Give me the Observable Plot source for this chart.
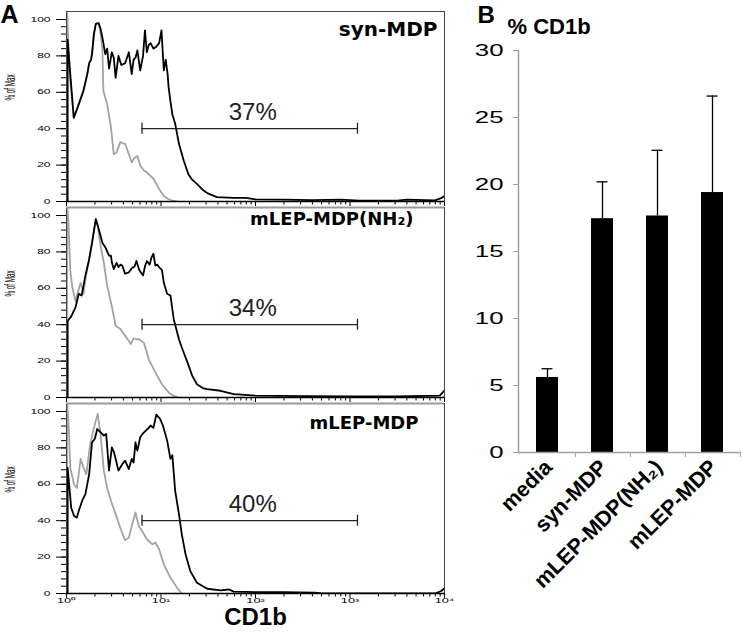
<!DOCTYPE html>
<html><head><meta charset="utf-8">
<script src="https://cdn.jsdelivr.net/npm/d3@7"></script>
<script src="https://cdn.jsdelivr.net/npm/@observablehq/plot@0.6"></script>
<style>
body{margin:0;background:#fff;}
#root{position:relative;width:742px;height:634px;overflow:hidden;background:#fff;}
#root svg{position:absolute;}
</style></head><body><div id="root"></div>
<script>
// ---------- Panel A data ----------
const histSamples = ["syn-MDP", "mLEP-MDP(NH\u2082)", "mLEP-MDP"];
const gatePercent = [37, 34, 40];
const gateRange = [6.3, 1200];
const gateLevel = 40;
const xDecades = [1, 10, 100, 1000, 10000];
const xTickLabels = ["10\u2070", "10\u00b9", "10\u00b2", "10\u00b3", "10\u2074"];
const yTicksA = [0, 20, 40, 60, 80, 100];

// [log10 CD1b intensity, % of max]; black = CD1b stain, grey = control
const synStained = [[0.012,0],[0.012,89],[0.04,70],[0.077,46],[0.12,52],[0.18,61],[0.22,70],[0.24,76],[0.26,78],[0.27,81],[0.29,92],[0.31,97.6],[0.34,98],[0.36,95],[0.38,90],[0.40,84],[0.41,81],[0.43,84],[0.45,73],[0.48,82],[0.50,79],[0.52,68],[0.55,80],[0.58,75],[0.62,76],[0.66,82],[0.69,70],[0.71,78],[0.73,79],[0.75,83],[0.78,72],[0.81,80],[0.83,94],[0.85,82],[0.87,86],[0.89,87],[0.92,84],[0.95,85],[0.98,87],[1.005,94],[1.03,72],[1.05,78],[1.07,70],[1.08,63],[1.10,55],[1.12,48],[1.15,42.7],[1.19,31.7],[1.24,22.5],[1.29,15],[1.33,12],[1.38,9.7],[1.44,6.5],[1.49,4.6],[1.59,2.4],[1.77,2],[1.9,2],[2.0,1.2],[2.3,1],[2.6,0.8],[2.9,1],[3.1,0.5],[3.5,0.5],[3.6,1],[3.9,0.6],[3.97,2],[4.0,3]];
const synControl = [[0.005,0],[0.006,106],[0.03,72],[0.077,46],[0.12,52],[0.18,61],[0.22,70],[0.24,76],[0.26,78],[0.27,81],[0.29,92],[0.31,97.6],[0.34,98],[0.36,93],[0.38,83],[0.39,61],[0.41,57],[0.43,53.7],[0.47,40.8],[0.50,26],[0.53,27],[0.57,32.6],[0.60,32],[0.62,31.7],[0.66,26],[0.69,21.6],[0.72,24],[0.75,25],[0.78,19.8],[0.82,17],[0.85,16],[0.92,12.5],[0.99,6],[1.03,3],[1.07,1.5],[1.12,0.5],[1.17,0]];
const nh2Stained = [[0.012,0],[0.012,42],[0.05,44.6],[0.095,49.5],[0.13,57],[0.16,56],[0.2,67],[0.24,76],[0.27,85],[0.31,98],[0.34,92.7],[0.38,85],[0.41,82.6],[0.45,78],[0.47,78],[0.48,74.3],[0.50,70.6],[0.53,74],[0.55,71.6],[0.57,73],[0.59,72.5],[0.62,68],[0.66,68.8],[0.69,71],[0.72,72],[0.74,75],[0.77,70],[0.81,67],[0.83,72],[0.85,75],[0.88,73],[0.90,77],[0.92,79],[0.94,72.5],[0.96,73],[0.98,71.6],[1.01,70],[1.03,63],[1.065,57],[1.10,56],[1.135,43],[1.19,32],[1.22,27.5],[1.28,19.3],[1.33,12],[1.38,7.3],[1.45,5],[1.49,4.6],[1.63,3.7],[1.77,1.8],[2.0,1],[2.5,0.8],[3.0,0.6],[3.5,0.6],[3.95,1],[4.0,4]];
const nh2Control = [[0.005,0],[0.006,106],[0.02,97],[0.04,70],[0.06,61],[0.095,53],[0.12,58],[0.15,63],[0.18,57],[0.2,65],[0.24,76],[0.27,85],[0.31,98],[0.33,95],[0.36,83.5],[0.395,74],[0.43,61.5],[0.48,50],[0.52,39.4],[0.57,37.6],[0.62,34],[0.66,31],[0.68,29.4],[0.71,32.5],[0.74,32],[0.77,32],[0.82,30],[0.87,21],[0.94,13.8],[1.01,7.3],[1.08,2.8],[1.13,1],[1.17,0.3]];
const mlepStained = [[0.012,0],[0.012,69],[0.05,47],[0.08,42.6],[0.11,41.7],[0.13,45.4],[0.166,51],[0.2,54.6],[0.24,65.6],[0.27,83],[0.30,85],[0.325,90.4],[0.36,88.6],[0.395,86.8],[0.42,87.7],[0.45,67.5],[0.48,80.3],[0.50,78],[0.52,74],[0.55,67.5],[0.59,71],[0.62,73],[0.66,68.4],[0.69,74],[0.71,72],[0.73,83],[0.75,78.5],[0.78,85.8],[0.81,88],[0.84,89.5],[0.87,91],[0.89,92.3],[0.92,91],[0.95,98.3],[0.99,96],[1.02,92.3],[1.065,84],[1.10,74],[1.12,76],[1.15,56.4],[1.19,43.6],[1.22,32.5],[1.26,21.5],[1.31,12.3],[1.38,5.9],[1.49,2.6],[1.63,1.7],[1.72,2.2],[1.77,1],[2.0,0.8],[2.3,0.7],[2.63,0.5],[2.7,0],[3.9,0],[3.97,1.5],[4.0,3]];
const mlepControl = [[0.005,0],[0.006,106],[0.025,90],[0.04,69],[0.08,60],[0.11,58],[0.15,74],[0.18,69],[0.21,65.6],[0.25,82],[0.29,91],[0.33,98.7],[0.36,87.7],[0.395,67.5],[0.43,58],[0.47,51],[0.52,43.6],[0.57,36],[0.62,29.2],[0.66,30.7],[0.69,37],[0.73,44.5],[0.765,37],[0.80,34.4],[0.85,29.8],[0.91,27],[0.94,28],[0.98,24.3],[1.03,16],[1.10,8.6],[1.17,3.1],[1.22,0]];

// ---------- Panel B data ----------
const conditions = ["media", "syn-MDP", "mLEP-MDP(NH\u2082)", "mLEP-MDP"];
const meanCD1b = [5.6, 17.45, 17.65, 19.4];
const sdCD1b = [0.65, 2.75, 4.9, 7.2];
const yTicksB = [0, 5, 10, 15, 20, 25, 30];

const root = document.getElementById("root");
const baseStyle = {background: "transparent", overflow: "visible", fontFamily: "'Liberation Sans', Arial, sans-serif", color: "#000"};

function stretch(svg, test, sx, sy) {
  d3.select(svg).selectAll("text").each(function () {
    if (!test(this.textContent)) return;
    const t = this.getAttribute("transform") || "";
    this.setAttribute("transform", t + ` scale(${sx},${sy})`);
  });
}

const stained = [synStained, nh2Stained, mlepStained];
const controls = [synControl, nh2Control, mlepControl];
const titleOpts = [
  {dx: -7, dy: 10, fontSize: 20},
  {dx: -31, dy: 5, fontSize: 18},
  {dx: -26, dy: 13, fontSize: 18}
];
const toRows = arr => arr.map(([e, p]) => ({x: 10 ** e, y: p}));
const xMinor = xDecades.slice(0, -1).flatMap(d => d3.range(2, 10).map(k => d * k));
const yMinor = d3.range(0, 101, 4);

for (let i = 0; i < 3; i++) {
  const last = i === 2;
  const H = last ? 242 : 212;
  const marks = [
    Plot.line(toRows(controls[i]), {x: "x", y: "y", stroke: "#a3a3a3", strokeWidth: 1.8, clip: true}),
    Plot.line(toRows(stained[i]), {x: "x", y: "y", stroke: "#000", strokeWidth: 1.8, clip: true}),
    Plot.frame({stroke: "#444", strokeWidth: 1}),
    Plot.ruleY([0], {stroke: "#000", strokeWidth: 1.5}),
    Plot.axisY({ticks: yMinor, tickSize: 5, tickFormat: () => "", label: null}),
    Plot.axisY({ticks: yTicksA, tickSize: 10, tickPadding: 6, fontSize: 10, label: null, tickFormat: d => String(d)}),
    Plot.axisX({ticks: xMinor, tickSize: 3.5, tickFormat: () => "", label: null}),
    Plot.axisX({ticks: xDecades, tickSize: 5, tickPadding: 0, fontSize: 8, label: null,
      tickFormat: last ? d => xTickLabels[xDecades.indexOf(d)] : () => ""}),
    Plot.ruleY([gateLevel], {x1: gateRange[0], x2: gateRange[1], stroke: "#222", strokeWidth: 1.3}),
    Plot.ruleX(gateRange, {x: d => d, y1: gateLevel - 3, y2: gateLevel + 3, stroke: "#222", strokeWidth: 1.3}),
    Plot.text([gatePercent[i] + "%"], {x: Math.sqrt(gateRange[0] * gateRange[1]), y: gateLevel, dy: -9, dx: 3, text: d => d,
      lineAnchor: "bottom", fontSize: 24, fill: "#222"}),
    Plot.text([histSamples[i]], {frameAnchor: "top-right", text: d => d, textAnchor: "end", lineAnchor: "top",
      fontFamily: "'DejaVu Sans', sans-serif", fontWeight: "bold", ...titleOpts[i]}),
    Plot.text(["% of Max"], {frameAnchor: "left", rotate: -90, dx: -56, dy: -6, fontSize: 15, text: d => d})
  ];
  if (i > 0) marks.push(Plot.ruleY([104.4], {stroke: "#9a9a9a", strokeWidth: 2}));
  if (i === 0) marks.push(Plot.text(["A"], {frameAnchor: "top-left", dx: -66, dy: 11, textAnchor: "start",
    lineAnchor: "bottom", fontSize: 25, fontWeight: "bold", text: d => d}));
  if (last) marks.push(Plot.text(["CD1b"], {frameAnchor: "bottom", dy: 31, lineAnchor: "bottom",
    fontSize: 24, fontWeight: "bold", text: d => d}));
  const svg = Plot.plot({
    width: 460, height: H,
    marginLeft: 66, marginRight: 16, marginTop: 11, marginBottom: H - 201,
    x: {type: "log", domain: [1, 10000], label: null},
    y: {domain: [0, 104.4], label: null},
    style: baseStyle,
    marks
  });
  svg.style.left = "0px";
  svg.style.top = (196 * i) + "px";
  stretch(svg, t => /^\d+$/.test(t), 1.2, 0.68);
  stretch(svg, t => xTickLabels.includes(t), 1.6, 0.85);
  stretch(svg, t => t === "% of Max", 0.42, 1);
  root.appendChild(svg);
}

// ---------- Panel B ----------
const bars = conditions.map((c, i) => ({c, m: meanCD1b[i], hi: meanCD1b[i] + sdCD1b[i]}));
const svgB = Plot.plot({
  width: 282, height: 634,
  marginLeft: 58, marginRight: 1, marginTop: 50, marginBottom: 182,
  x: {domain: conditions, paddingInner: 0.6, paddingOuter: 0.3, label: null},
  y: {domain: [0, 30], label: null},
  style: baseStyle,
  marks: [
    Plot.barY(bars, {x: "c", y: "m", fill: "#000"}),
    Plot.ruleX(bars, {x: "c", y1: "m", y2: "hi", stroke: "#000", strokeWidth: 1.3}),
    Plot.tickY(bars, {x: "c", y: "hi", insetLeft: 5.5, insetRight: 5.5, stroke: "#000", strokeWidth: 1.3}),
    Plot.frame({anchor: "left", stroke: "#a0a0a0", strokeWidth: 1.5}),
    Plot.ruleY([0], {stroke: "#a0a0a0", strokeWidth: 1.5}),
    Plot.axisY({ticks: yTicksB, tickSize: 5, tickPadding: 10, fontSize: 20, stroke: "#a0a0a0", label: null, tickFormat: d => String(d)}),
    Plot.axisX({tickSize: 5, dx: 27.875, tickFormat: () => "", stroke: "#a0a0a0", label: null}),
    Plot.text(bars, {x: "c", text: "c", frameAnchor: "bottom", rotate: -45, textAnchor: "end", lineAnchor: "bottom",
      dx: 6, dy: 16, fontSize: 21.5, fontWeight: "bold"}),
    Plot.text(["B"], {frameAnchor: "top-left", dx: -41, dy: -28, textAnchor: "start", lineAnchor: "bottom",
      fontSize: 24, fontWeight: "bold", text: d => d}),
    Plot.text(["% CD1b"], {frameAnchor: "top-left", dx: -11, dy: -17, textAnchor: "start", lineAnchor: "bottom",
      fontSize: 22, fontWeight: "bold", text: d => d})
  ]
});
svgB.style.left = "460px";
svgB.style.top = "0px";
stretch(svgB, t => /^\d+$/.test(t), 1.29, 0.86);
root.appendChild(svgB);
</script></body></html>
